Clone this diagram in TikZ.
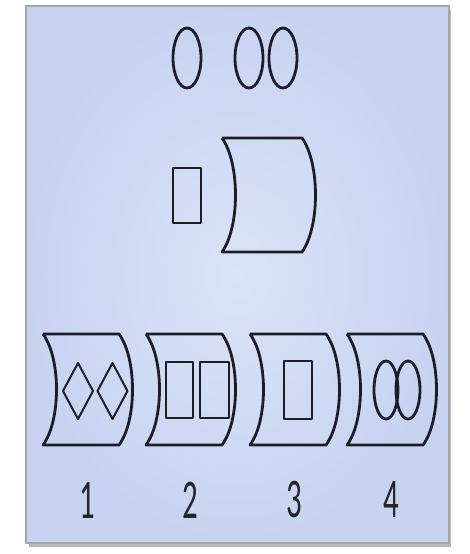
\documentclass[tikz,border=0pt]{standalone}
\usepackage{fontspec}
\newfontfamily\digitfont{Carlito}
\definecolor{panelblue}{RGB}{200,211,242}
\definecolor{panelpale}{RGB}{219,227,247}
\definecolor{inkline}{RGB}{28,30,38}
\tikzset{
  outline/.style={draw=inkline,line width=1.4pt,line join=round},
  thin outline/.style={draw=inkline,line width=1pt,line join=round},
  digit/.style={font=\digitfont\fontsize{28}{28}\selectfont,xscale=.55,inner sep=0pt,text=black!85},
  panel/.style={draw=black!35,line width=.6pt}
}
% barrel: left x, top y, width, height
\newcommand{\barrel}[4]{%
  \begin{scope}[shift={(#1,#2)}]
    \draw[outline] (0,0) -- (#3,0)
      .. controls (#3+18,.22*#4) and (#3+18,.78*#4) .. (#3,#4) -- (0,#4)
      .. controls (18,.78*#4) and (18,.22*#4) .. (0,0);
  \end{scope}}

\begin{document}
\begin{tikzpicture}[x=.5pt,y=-.5pt]
  \useasboundingbox (0,0) rectangle (470,554);
  \fill[white] (0,0) rectangle (470,554);

  % panel with shadow
  \fill[black!28] (29,10) rectangle (451,547);
  \shade[inner color=panelpale,outer color=panelblue] (26,6) rectangle (449,543);
  \draw[panel] (26,6) rectangle (449,543);

  % top row
  \draw[outline] (187,58) ellipse [x radius=14,y radius=30];
  \draw[outline] (249,58) ellipse [x radius=14,y radius=30];
  \draw[outline] (283,58) ellipse [x radius=14,y radius=30];

  % middle row
  \draw[outline] (173,168) rectangle (201,223);
  \barrel{222}{138}{80}{114}

  % bottom row
  \foreach \x/\n [count=\i] in {43/1,146/2,250/3,347/4} {
    \barrel{\x}{334}{76}{111}
    \node[digit] (n\i) at (\x+44,500) {\n};
  }
  \foreach \c in {78,112.5}
    \draw[thin outline] (\c-15,391) -- (\c,363) -- (\c+15,391) -- (\c,419) -- cycle;
  \draw[outline] (166,362) rectangle (193,418);
  \draw[outline] (200,362) rectangle (229,418);
  \draw[outline] (284,361) rectangle (312,419);
  \draw[outline] (386,390) ellipse [x radius=12,y radius=29];
  \draw[outline] (408,390) ellipse [x radius=12,y radius=29];
\end{tikzpicture}
\end{document}
